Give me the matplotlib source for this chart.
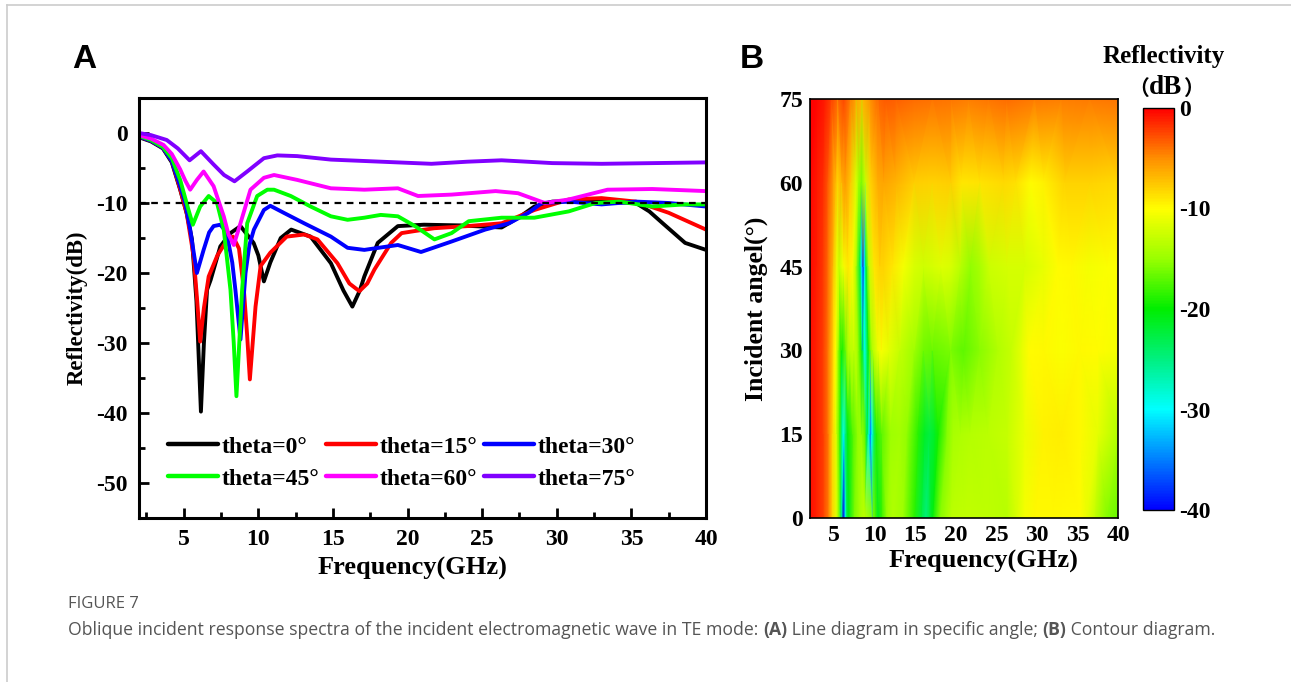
import numpy as np
import matplotlib
matplotlib.use('Agg')
import matplotlib.pyplot as plt
import matplotlib.tri as mtri
from matplotlib.colors import LinearSegmentedColormap
from matplotlib.lines import Line2D

# ---------------- data ----------------
angles = [0, 15, 30, 45, 60, 75]
series_labels = ['theta=0°', 'theta=15°', 'theta=30°', 'theta=45°', 'theta=60°', 'theta=75°']
series_colors = ['#000000', '#FF0000', '#0000FF', '#00FF00', '#FF00FF', '#8000FF']

freq_0 = [2.0, 2.8, 3.6, 4.2, 4.76, 5.2, 5.55, 5.85, 6.15, 6.35, 6.56, 6.8, 7.45, 8.13, 8.8,
          9.68, 10.0, 10.37, 10.8, 11.5, 12.2, 13.5, 14.86, 15.7, 16.3, 16.8, 17.1, 18.0,
          19.35, 21.1, 23.5, 26.3, 27.5, 28.5, 29.7, 32.0, 35.3, 36.2, 37.1, 38.6, 40.0]
refl_0 = [-0.6, -1.2, -2.2, -4.2, -8.1, -11.5, -15.2, -24.0, -39.8, -30.0, -22.4, -21.0, -16.2,
          -14.3, -13.3, -15.7, -17.5, -21.2, -18.5, -15.0, -13.8, -14.8, -18.6, -22.5, -24.8,
          -22.5, -20.5, -15.7, -13.3, -13.1, -13.2, -13.5, -12.0, -10.5, -9.8, -9.7, -10.0,
          -11.2, -12.9, -15.7, -16.7]

freq_15 = [2.0, 2.8, 3.6, 4.2, 4.76, 5.2, 5.66, 5.9, 6.1, 6.35, 6.67, 7.25, 7.9, 8.3, 8.7,
           9.03, 9.25, 9.43, 9.62, 9.81, 10.15, 10.8, 11.9, 13.07, 13.96, 15.3, 16.1, 16.77,
           17.3, 17.78, 18.9, 19.6, 20.5, 21.8, 24.0, 26.3, 28.5, 30.8, 33.0, 35.3, 37.5, 40.0]
refl_15 = [-0.5, -1.1, -2.1, -4.0, -8.0, -11.5, -17.6, -24.0, -29.8, -25.0, -20.5, -17.5,
           -15.3, -14.8, -16.5, -22.4, -29.0, -35.2, -30.0, -24.8, -19.0, -17.1, -14.8, -14.5,
           -15.2, -18.6, -21.5, -22.6, -21.5, -19.5, -15.7, -14.3, -14.0, -13.6, -13.3, -12.9,
           -11.0, -9.5, -9.3, -9.8, -11.4, -13.8]

freq_30 = [2.0, 2.8, 3.6, 4.2, 4.76, 5.1, 5.43, 5.88, 6.33, 6.7, 7.0, 7.45, 7.8, 8.0, 8.25,
           8.46, 8.8, 9.14, 9.4, 9.7, 10.37, 10.8, 11.7, 13.07, 14.86, 15.98, 17.1, 19.35,
           20.9, 22.95, 25.2, 26.8, 28.1, 29.0, 30.8, 33.0, 35.3, 37.5, 40.0]
refl_30 = [-0.5, -1.1, -2.1, -4.0, -7.6, -10.0, -13.8, -20.0, -16.7, -14.2, -13.3, -13.1,
           -14.0, -15.7, -18.5, -22.4, -29.5, -20.0, -16.0, -13.8, -11.0, -10.4, -11.4, -12.9,
           -14.8, -16.4, -16.7, -16.0, -17.0, -15.5, -13.8, -12.9, -11.4, -10.0, -9.8, -10.2,
           -9.8, -10.0, -10.5]

freq_45 = [2.0, 2.8, 3.6, 4.2, 4.76, 5.32, 5.61, 6.1, 6.67, 7.23, 7.68, 8.13, 8.35, 8.53,
           8.72, 8.91, 9.25, 9.92, 10.6, 11.05, 12.17, 13.5, 14.86, 15.98, 17.1, 18.2, 19.35,
           20.5, 21.8, 22.95, 24.1, 26.3, 28.5, 30.8, 32.6, 34.2, 36.4, 38.6, 40.0]
refl_45 = [-0.4, -1.0, -2.0, -3.6, -6.7, -11.0, -13.1, -10.5, -9.0, -10.0, -13.8, -22.4,
           -30.0, -37.6, -30.0, -22.4, -12.9, -9.0, -8.1, -8.1, -9.0, -10.5, -11.9, -12.4,
           -12.1, -11.7, -11.9, -13.3, -15.2, -14.3, -12.6, -12.1, -12.1, -11.2, -10.0, -9.8,
           -10.5, -10.2, -10.2]

freq_60 = [2.0, 2.8, 3.64, 4.2, 4.76, 5.1, 5.43, 5.88, 6.33, 7.0, 7.68, 8.0, 8.35, 8.8,
           9.47, 10.37, 11.05, 12.6, 14.86, 17.1, 19.35, 20.7, 22.95, 25.9, 27.4, 29.2, 30.8,
           33.4, 36.4, 40.0]
refl_60 = [-0.3, -0.8, -1.7, -3.0, -5.2, -6.8, -8.1, -6.7, -5.5, -7.6, -11.9, -14.5, -16.0,
           -12.9, -8.1, -6.4, -6.0, -6.7, -7.9, -8.1, -7.9, -9.0, -8.8, -8.3, -8.6, -10.0,
           -9.5, -8.1, -8.0, -8.3]

freq_75 = [2.0, 2.8, 3.86, 4.6, 5.39, 6.15, 7.0, 7.7, 8.4, 9.25, 10.37, 11.27, 12.6, 14.86,
           17.1, 19.35, 21.6, 24.0, 26.3, 29.7, 33.0, 36.5, 40.0]
refl_75 = [0.0, -0.3, -1.0, -2.2, -3.9, -2.6, -4.5, -6.0, -6.9, -5.5, -3.6, -3.2, -3.3, -3.8,
           -4.0, -4.2, -4.4, -4.1, -3.9, -4.3, -4.4, -4.3, -4.2]

freqs = [freq_0, freq_15, freq_30, freq_45, freq_60, freq_75]
refls = [refl_0, refl_15, refl_30, refl_45, refl_60, refl_75]

x_ticks = [5, 10, 15, 20, 25, 30, 35, 40]
yA_ticks = [0, -10, -20, -30, -40, -50]
yB_ticks = [0, 15, 30, 45, 60, 75]
cb_ticks = [0, -10, -20, -30, -40]
threshold_db = -10

# colour scale of the contour map (value, colour)
cmap_nodes = [(-40, '#0000FF'), (-35, '#0080FF'), (-30, '#00FFFF'), (-25, '#00F080'),
              (-20, '#00EE00'), (-15, '#99FF00'), (-10, '#FFFF00'), (-5, '#FF9000'),
              (0, '#FF0000')]

# ---------------- style ----------------
plt.rcParams['font.family'] = ['Liberation Serif', 'Noto Sans CJK SC', 'DejaVu Sans']
plt.rcParams['font.weight'] = 'bold'
plt.rcParams['axes.labelweight'] = 'bold'
plt.rcParams['axes.unicode_minus'] = False

W, H = 1291, 682
fig = plt.figure(figsize=(W / 100, H / 100), dpi=100)
renderer = fig.canvas.get_renderer()


def fx(px):
    return px / W


def fy(py):
    return 1 - py / H


# ---------------- panel A ----------------
axA = fig.add_axes([fx(139), fy(518), fx(706) - fx(139), fy(98) - fy(518)])
handles = []
for f, r, c, lab in zip(freqs, refls, series_colors, series_labels):
    h, = axA.plot(f, r, color=c, lw=2.8, label=lab, solid_joinstyle='round',
                  solid_capstyle='round')
    handles.append(h)
axA.axhline(threshold_db, color='black', lw=1.6, ls=(0, (3, 2.5)), zorder=5)
axA.set_xlim(2, 40)
axA.set_ylim(-55, 5)
axA.set_xticks(x_ticks)
axA.set_yticks(yA_ticks)
axA.set_xticks(np.arange(2.5, 40, 5), minor=True)
axA.set_yticks(np.arange(-45, 0, 10), minor=True)
axA.tick_params(which='both', direction='in', top=False, right=False, width=2,
                labelsize=17)
axA.tick_params(which='major', length=7, pad=8)
axA.tick_params(which='minor', length=4)
for s in axA.spines.values():
    s.set_linewidth(2.2)
axA.set_xlabel('Frequency(GHz)', fontsize=19, labelpad=6)
axA.xaxis.set_label_coords(0.482, -0.093)
axA.set_ylabel('Reflectivity(dB)', fontsize=16.5, labelpad=6)
# legend is filled row by row: 0,15,30 / 45,60,75
order = [0, 3, 1, 4, 2, 5]
leg = axA.legend([handles[i] for i in order], [series_labels[i] for i in order],
                 ncol=3, loc='lower left', bbox_to_anchor=(0.035, 0.045),
                 borderaxespad=0, frameon=False, fontsize=17, handlelength=2.1,
                 handletextpad=0.15, columnspacing=0.3, labelspacing=0.45)
for line in leg.get_lines():
    line.set_linewidth(3.2)

# ---------------- panel B ----------------
axB = fig.add_axes([fx(810), fy(518), fx(1118) - fx(810), fy(99) - fy(518)])
cmap = LinearSegmentedColormap.from_list(
    'refl', [((v + 40) / 40, c) for v, c in cmap_nodes])
pts_f = np.concatenate([np.asarray(f, float) for f in freqs])
pts_a = np.concatenate([np.full(len(f), a, float) for f, a in zip(freqs, angles)])
pts_z = np.concatenate([np.asarray(r, float) for r in refls])
tri = mtri.Triangulation(pts_f, pts_a)
tpc = axB.tripcolor(tri, pts_z, shading='gouraud', cmap=cmap, vmin=-40, vmax=0,
                    rasterized=True)
axB.set_xlim(2, 40)
axB.set_ylim(0, 75)
axB.set_xticks(x_ticks)
axB.set_yticks(yB_ticks)
axB.tick_params(length=0, labelsize=17, pad=5)
for s in axB.spines.values():
    s.set_linewidth(1.2)
axB.set_xlabel('Frequency(GHz)', fontsize=19)
axB.xaxis.set_label_coords(0.562, -0.075)
axB.set_ylabel('Incident angel(°)', fontsize=18.5, labelpad=8)

cax = fig.add_axes([fx(1143), fy(510), fx(1174) - fx(1143), fy(108) - fy(510)])
cb = fig.colorbar(tpc, cax=cax, ticks=cb_ticks)
cb.ax.tick_params(length=0, labelsize=17, pad=4)
cb.outline.set_linewidth(1.0)
fig.text(fx(1164), fy(56), 'Reflectivity', ha='center', va='center', fontsize=18)
t_db = fig.text(fx(1166), fy(88), 'dB', ha='center', va='center', fontsize=19.5)
bb = t_db.get_window_extent(renderer=renderer)
fig.text(bb.x0 / W, fy(88), '（', ha='right', va='center', fontsize=15,
         family='Noto Sans CJK SC')
fig.text(bb.x1 / W, fy(88), '）', ha='left', va='center', fontsize=15,
         family='Noto Sans CJK SC')

# ---------------- panel letters ----------------
fig.text(fx(84), fy(59), 'A', family='Liberation Sans', weight='bold', fontsize=24,
         ha='center', va='center')
fig.text(fx(752), fy(59), 'B', family='Liberation Sans', weight='bold', fontsize=24,
         ha='center', va='center')

# ---------------- caption ----------------
cap_font = dict(family='Open Sans', fontsize=12.7, color='#555555')
fig.text(fx(68), fy(604), 'FIGURE 7', va='center', weight='normal',
         family='Open Sans', fontsize=12, color='#555555')
pieces = [('Oblique incident response spectra of the incident electromagnetic wave in TE mode: ', 'normal'),
          ('(A)', 'bold'), (' Line diagram in specific angle; ', 'normal'),
          ('(B)', 'bold'), (' Contour diagram.', 'normal')]
xpos = fx(68)
for txt, wt in pieces:
    t = fig.text(xpos, fy(635), txt, va='baseline', weight=wt, **cap_font)
    xpos = t.get_window_extent(renderer=renderer).x1 / W

# ---------------- page frame ----------------
fig.add_artist(Line2D([fx(7), 1], [fy(5), fy(5)], transform=fig.transFigure,
                      color='#cccccc', lw=1.2))
fig.add_artist(Line2D([fx(7), fx(7)], [0, fy(5)], transform=fig.transFigure,
                      color='#cccccc', lw=1.2))

fig.savefig('out.png', dpi=100)
